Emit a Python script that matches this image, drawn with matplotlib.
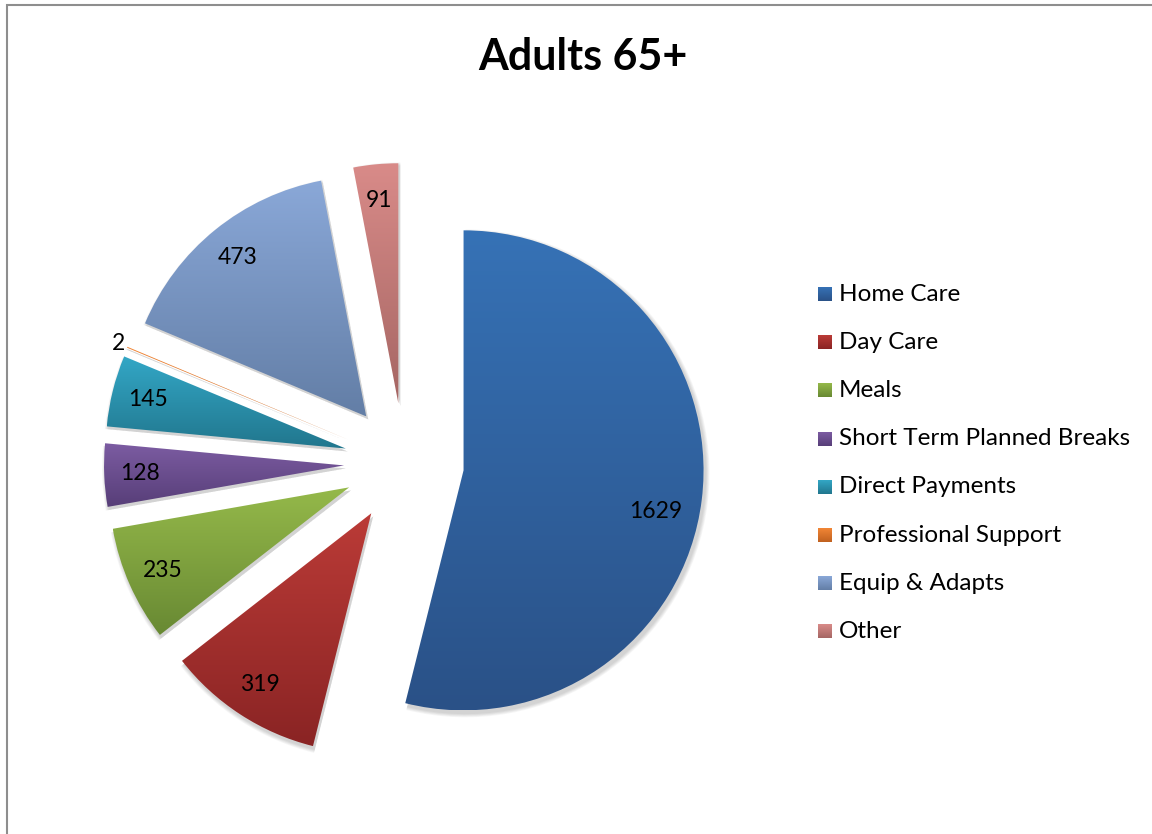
import numpy as np
import matplotlib
matplotlib.use('Agg')
import matplotlib.pyplot as plt
from matplotlib.patches import Wedge
from matplotlib.colors import LinearSegmentedColormap

categories = ['Home Care', 'Day Care', 'Meals', 'Short Term Planned Breaks',
              'Direct Payments', 'Professional Support', 'Equip & Adapts', 'Other']
values = [1629, 319, 235, 128, 145, 2, 473, 91]

# gradient fill per slice: lighter top -> darker bottom
top_colors = ['#3672b6', '#bb3b37', '#95b94a', '#7c5ca2', '#33a7c6', '#f28636', '#8aa8d8', '#d98b89']
bottom_colors = ['#2a5187', '#8a2424', '#688933', '#573e78', '#21768d', '#c0611f', '#637ea6', '#a56663']

plt.rcParams['font.family'] = ['Lato', 'DejaVu Sans']

W, H = 1152, 834
fig = plt.figure(figsize=(W / 100, H / 100), dpi=100)
ax = fig.add_axes([0, 0, 1, 1])

cx, cy, radius = 404, H - 463, 240
# pie explode is an absolute offset in data units here
wedges, _ = ax.pie(values, radius=radius, center=(cx, cy), explode=[radius * 0.25] * len(values),
                   startangle=90, counterclock=False, wedgeprops=dict(linewidth=0))

grad = np.linspace(0, 1, 256).reshape(-1, 1)
total = sum(values)
for w, val, c0, c1 in zip(wedges, values, top_colors, bottom_colors):
    # soft drop shadow
    for k in range(1, 6):
        ax.add_patch(Wedge((w.center[0] + 2, w.center[1] - 3), w.r + k * 0.8, w.theta1, w.theta2,
                           facecolor='black', alpha=0.035, linewidth=0, zorder=0))
    w.set_facecolor('none')
    w.set_zorder(2)
    bb = w.get_path().get_extents()
    cmap = LinearSegmentedColormap.from_list('g', [c0, c1])
    im = ax.imshow(grad, cmap=cmap, extent=(bb.x0, bb.x1, bb.y0, bb.y1),
                   origin='upper', aspect='auto', zorder=1)
    im.set_clip_path(w)

    mid = np.deg2rad((w.theta1 + w.theta2) / 2)
    if val / total > 0.5:
        # big slice: label sits a little lower, as in best-fit placement
        mid -= np.deg2rad(5)
        dist = 0.82
    elif val / total < 0.01:
        dist = 1.04
    else:
        dist = 0.85
    ax.text(w.center[0] + dist * w.r * np.cos(mid), w.center[1] + dist * w.r * np.sin(mid),
            str(val), ha='center', va='center', fontsize=16.5, color='black', zorder=3)

# legend
leg_x, leg_y0, leg_step = 818, 294, 48.2
for i, (name, c0, c1) in enumerate(zip(categories, top_colors, bottom_colors)):
    y = H - (leg_y0 + i * leg_step)
    cmap = LinearSegmentedColormap.from_list('g', [c0, c1])
    ax.imshow(grad, cmap=cmap, extent=(leg_x, leg_x + 14, y - 7, y + 7),
              origin='upper', aspect='auto', zorder=1)
    ax.text(leg_x + 21, y, name, ha='left', va='center', fontsize=17.5, color='black')

ax.text(583, H - 57, 'Adults 65+', ha='center', va='center', fontsize=31,
        fontweight='bold', color='black')

# chart frame
ax.plot([7, 7, W], [0, H - 5, H - 5], color='#8e8e8e', linewidth=1.5, solid_joinstyle='miter')

ax.set_xlim(0, W)
ax.set_ylim(0, H)
ax.set_aspect('equal')
ax.axis('off')

fig.savefig('out.png', dpi=100, facecolor='white')
